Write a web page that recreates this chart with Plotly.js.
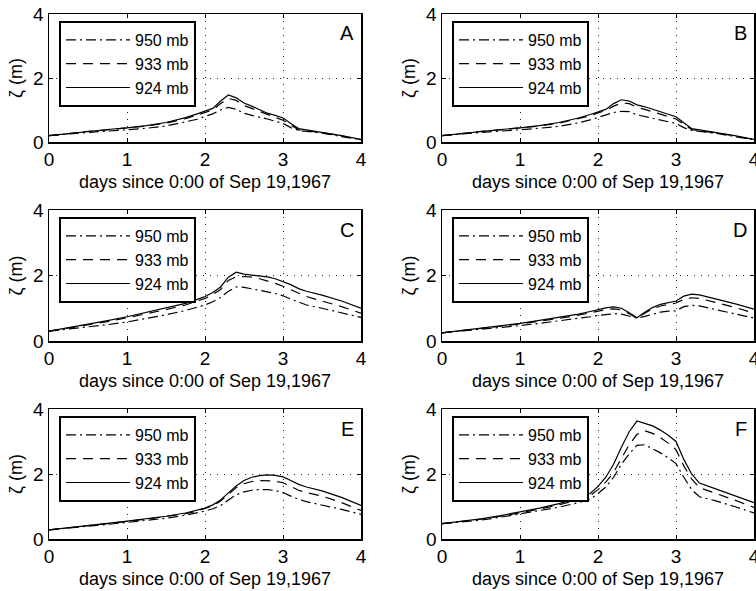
<!DOCTYPE html>
<html>
<head>
<meta charset="utf-8">
<script src="https://cdn.plot.ly/plotly-3.0.1.min.js"></script>
<style>html,body{margin:0;padding:0;background:#fff;}#chart{width:756px;height:591px;}</style>
</head>
<body>
<div id="chart"></div>
<script>
// time axis (days since 0:00 of Sep 19, 1967)
const T = [0, 0.25, 0.5, 0.75, 1, 1.25, 1.5, 1.75, 1.9, 2, 2.1, 2.2, 2.3, 2.4, 2.5, 2.6, 2.7, 2.8, 2.9, 3, 3.1, 3.2, 3.3, 3.5, 3.75, 4];
const panelLetters = ['A', 'B', 'C', 'D', 'E', 'F'];
const seriesNames = ['950 mb', '933 mb', '924 mb'];

// Panel A
const A950 = [0.20,0.26,0.30,0.34,0.38,0.43,0.50,0.62,0.71,0.80,0.88,1.00,1.08,1.02,0.90,0.83,0.78,0.72,0.65,0.58,0.45,0.36,0.33,0.28,0.17,0.07];
const A933 = [0.20,0.27,0.33,0.38,0.43,0.50,0.59,0.73,0.84,0.93,1.00,1.20,1.36,1.30,1.14,1.05,0.95,0.85,0.77,0.68,0.52,0.38,0.35,0.29,0.19,0.07];
const A924 = [0.20,0.27,0.34,0.39,0.44,0.51,0.61,0.76,0.88,0.97,1.05,1.28,1.47,1.38,1.22,1.12,1.00,0.90,0.83,0.75,0.58,0.42,0.38,0.31,0.20,0.08];
// Panel B
const B950 = [0.20,0.26,0.30,0.34,0.38,0.43,0.49,0.60,0.69,0.77,0.84,0.92,0.96,0.95,0.85,0.80,0.75,0.70,0.64,0.58,0.45,0.36,0.33,0.28,0.17,0.07];
const B933 = [0.20,0.27,0.33,0.38,0.43,0.50,0.59,0.72,0.82,0.91,0.98,1.12,1.22,1.20,1.08,1.02,0.94,0.86,0.80,0.72,0.55,0.39,0.35,0.29,0.19,0.07];
const B924 = [0.20,0.27,0.34,0.39,0.44,0.51,0.61,0.75,0.86,0.95,1.02,1.20,1.32,1.28,1.16,1.10,1.02,0.93,0.87,0.79,0.60,0.42,0.38,0.31,0.20,0.08];
// Panel C
const C950 = [0.30,0.36,0.43,0.50,0.58,0.68,0.80,0.93,1.02,1.10,1.20,1.33,1.52,1.65,1.64,1.60,1.55,1.50,1.45,1.38,1.28,1.18,1.10,1.00,0.87,0.72];
const C933 = [0.30,0.39,0.48,0.59,0.71,0.83,0.96,1.10,1.21,1.30,1.42,1.57,1.85,1.96,1.97,1.95,1.90,1.84,1.76,1.67,1.56,1.45,1.36,1.22,1.05,0.85];
const C924 = [0.30,0.40,0.50,0.62,0.74,0.87,1.00,1.15,1.27,1.36,1.48,1.65,1.95,2.10,2.04,2.02,2.00,1.96,1.90,1.82,1.72,1.60,1.52,1.40,1.22,1.00];
// Panel D
const D950 = [0.25,0.30,0.35,0.41,0.47,0.54,0.61,0.69,0.74,0.78,0.81,0.83,0.82,0.77,0.70,0.75,0.82,0.88,0.91,0.92,1.05,1.09,1.07,0.96,0.83,0.70];
const D933 = [0.25,0.31,0.38,0.45,0.52,0.60,0.69,0.79,0.86,0.92,0.96,0.98,0.95,0.83,0.70,0.85,0.98,1.07,1.12,1.16,1.27,1.32,1.30,1.19,1.03,0.85];
const D924 = [0.25,0.32,0.39,0.46,0.54,0.63,0.72,0.82,0.90,0.96,1.01,1.04,1.00,0.86,0.71,0.88,1.02,1.12,1.18,1.22,1.37,1.43,1.41,1.30,1.14,0.97];
// Panel E
const E950 = [0.28,0.33,0.39,0.45,0.51,0.57,0.64,0.73,0.80,0.86,0.93,1.03,1.20,1.36,1.45,1.50,1.52,1.52,1.49,1.43,1.32,1.22,1.15,1.05,0.91,0.76];
const E933 = [0.28,0.34,0.40,0.47,0.54,0.61,0.69,0.78,0.86,0.93,1.02,1.17,1.38,1.58,1.70,1.77,1.80,1.80,1.78,1.73,1.61,1.50,1.43,1.32,1.12,0.88];
const E924 = [0.28,0.34,0.41,0.48,0.55,0.62,0.70,0.80,0.88,0.95,1.05,1.20,1.42,1.63,1.80,1.90,1.95,1.97,1.96,1.91,1.80,1.68,1.60,1.48,1.28,1.03];
// Panel F
const F950 = [0.47,0.52,0.58,0.67,0.77,0.87,0.98,1.12,1.22,1.40,1.60,1.90,2.30,2.62,2.88,2.90,2.78,2.65,2.50,2.32,1.90,1.52,1.30,1.18,1.00,0.80];
const F933 = [0.47,0.53,0.61,0.70,0.80,0.92,1.05,1.21,1.33,1.52,1.75,2.05,2.48,2.90,3.22,3.33,3.25,3.12,2.95,2.75,2.25,1.85,1.58,1.42,1.20,0.97];
const F924 = [0.47,0.54,0.62,0.72,0.83,0.95,1.09,1.26,1.40,1.62,1.90,2.30,2.82,3.30,3.63,3.56,3.48,3.35,3.19,3.00,2.45,2.00,1.72,1.55,1.33,1.12];

const panelSeries = [
  [A950, A933, A924], [B950, B933, B924], [C950, C933, C924],
  [D950, D933, D924], [E950, E933, E924], [F950, F933, F924]
];

const W = 756, H = 591;
const FONT = '"Liberation Sans", Arial, Helvetica, sans-serif';
const colPx = [[49, 361], [442, 754]];
const rowPx = [[14, 142], [210, 341], [409, 539]];
const dashes = ['10px,4px,2px,4px', '10px,7px', 'solid'];

const traces = [];
const layout = {
  width: W, height: H,
  margin: {l: 0, r: 0, t: 0, b: 0},
  paper_bgcolor: '#fff', plot_bgcolor: '#fff',
  font: {family: FONT, size: 18, color: '#000'},
  showlegend: true,
  annotations: []
};

panelLetters.forEach((letter, i) => {
  const col = i % 2, row = Math.floor(i / 2);
  const n = i + 1;
  const xk = n === 1 ? 'xaxis' : 'xaxis' + n;
  const yk = n === 1 ? 'yaxis' : 'yaxis' + n;
  const xr = n === 1 ? 'x' : 'x' + n;
  const yr = n === 1 ? 'y' : 'y' + n;
  const lk = n === 1 ? 'legend' : 'legend' + n;
  const [xl, xrgt] = colPx[col];
  const [yt, yb] = rowPx[row];

  seriesNames.forEach((name, s) => {
    traces.push({
      type: 'scatter', mode: 'lines', x: T, y: panelSeries[i][s],
      name: name, xaxis: xr, yaxis: yr, legend: lk,
      line: {color: '#000', width: 1.2, dash: dashes[s]}
    });
  });

  const common = {
    showline: true, linecolor: '#000', linewidth: 1.5, mirror: 'ticks',
    ticks: 'inside', ticklen: 4, tickcolor: '#000', tickwidth: 1,
    showgrid: true, gridcolor: '#222', gridwidth: 1, griddash: '1px,6px',
    zeroline: false, tickfont: {family: FONT, size: 19, color: '#000'},
    ticklabeloverflow: 'allow', fixedrange: true
  };
  layout[xk] = Object.assign({}, common, {
    domain: [xl / W, xrgt / W], anchor: yr, range: [0, 4],
    tickmode: 'linear', tick0: 0, dtick: 1,
    title: {text: 'days since 0:00 of Sep 19,1967', font: {family: FONT, size: 18, color: '#000'}, standoff: 6}
  });
  layout[yk] = Object.assign({}, common, {
    domain: [1 - yb / H, 1 - yt / H], anchor: xr, range: [0, 4],
    tickmode: 'linear', tick0: 0, dtick: 2,
    title: {text: 'ζ (m)', font: {family: FONT, size: 18, color: '#000'}, standoff: 6}
  });
  layout[lk] = {
    x: (xl + 10) / W, y: 1 - (yt + 7) / H, xanchor: 'left', yanchor: 'top',
    xref: 'paper', yref: 'paper',
    bgcolor: '#fff', bordercolor: '#000', borderwidth: 2,
    font: {family: FONT, size: 16, color: '#000'},
    itemwidth: 64, traceorder: 'normal'
  };
  layout.annotations.push({
    text: letter, xref: xr + ' domain', yref: yr + ' domain',
    x: 0.985, y: 0.95, xanchor: 'right', yanchor: 'top', showarrow: false,
    font: {family: FONT, size: 20, color: '#000'}
  });
});

Plotly.newPlot('chart', traces, layout, {staticPlot: true, displayModeBar: false});
</script>
</body>
</html>
